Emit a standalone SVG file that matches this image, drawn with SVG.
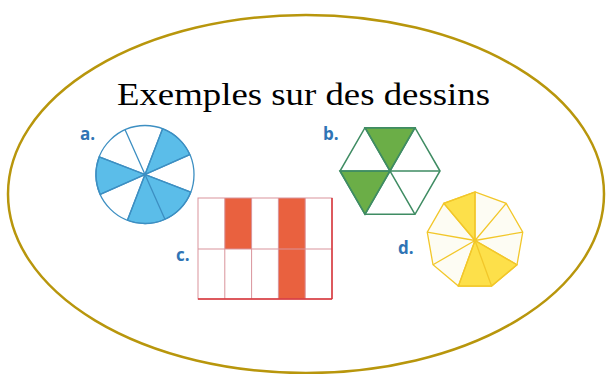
<svg xmlns="http://www.w3.org/2000/svg" width="606" height="374" viewBox="0 0 606 374">
<style>
.lbl{font-family:"Open Sans","Liberation Sans",sans-serif;font-weight:bold;font-size:17px;fill:#2f74b5}
.blue{fill:#5bbde9;stroke:#3d8fc2;stroke-width:1.3}
.bline{stroke:#3d8fc2;stroke-width:1.3;fill:none}
.green{fill:#6bae47;stroke:#3f8c63;stroke-width:1.5}
.gline{stroke:#3f8c63;stroke-width:1.5;fill:none}
.yel{fill:#fde04a;stroke:#f2c72a;stroke-width:1.3}
.yline{stroke:#f2c72a;stroke-width:1.3;fill:none}
.red{fill:#e9613f;stroke:none}
.grid{stroke:#d9939b;stroke-width:1;fill:none}
</style>
<rect width="606" height="374" fill="#ffffff"/>
<ellipse cx="306" cy="194" rx="298" ry="179" fill="#ffffff" stroke="#b8960c" stroke-width="2.5"/>
<text x="117" y="105" font-family="'Liberation Serif',serif" font-size="31" textLength="373" lengthAdjust="spacingAndGlyphs" fill="#000">Exemples sur des dessins</text>

<g id="a">
<circle cx="145" cy="174.5" r="49" fill="#ffffff"/>
<path class="blue" d="M145,174.5 L189.76,154.57 A49,49 0 0 0 162.56,128.75 Z"/>
<path class="blue" d="M145,174.5 L99.25,156.94 A49,49 0 0 0 100.24,194.43 Z"/>
<path class="blue" d="M145,174.5 L127.44,220.25 A49,49 0 0 0 190.75,192.06 Z"/>
<circle class="bline" cx="145" cy="174.5" r="49"/>
<path class="bline" d="M189.76,154.57 L100.24,194.43 M162.56,128.75 L127.44,220.25 M125.07,129.74 L164.93,219.26 M99.25,156.94 L190.75,192.06"/>
<text class="lbl" x="80" y="140">a.</text>
</g>

<g id="b">
<polygon points="440,171 415,127.7 365,127.7 340,171 365,214.3 415,214.3" fill="#ffffff"/>
<polygon class="green" points="365,127.7 415,127.7 390,171"/>
<polygon class="green" points="340,171 365,214.3 390,171"/>
<polygon class="gline" points="440,171 415,127.7 365,127.7 340,171 365,214.3 415,214.3"/>
<path class="gline" d="M440,171 L340,171 M415,127.7 L365,214.3 M365,127.7 L415,214.3"/>
<text class="lbl" x="323" y="140">b.</text>
</g>

<g id="c">
<rect x="198" y="198" width="134" height="101" fill="#ffffff"/>
<rect class="red" x="224.8" y="198" width="26.8" height="51"/>
<rect class="red" x="278.4" y="198" width="26.8" height="101"/>
<rect class="grid" x="198" y="198" width="134" height="101"/>
<path class="grid" d="M224.8,198 V299 M251.6,198 V299 M278.4,198 V299 M305.2,198 V299 M198,249 H332"/>
<path d="M198,299 H332 M332,198 V299" stroke="#d8343a" stroke-width="1.5" fill="none"/>
<text class="lbl" x="176" y="261">c.</text>
</g>

<g id="d">
<polygon points="475,192 443.82,203.35 427.24,232.08 433,264.75 458.41,286.08 491.59,286.08 517,264.75 522.76,232.08 506.18,203.35" fill="#fdfcf3"/>
<polygon class="yel" points="475,240.5 475,192 443.82,203.35"/>
<polygon class="yel" points="475,240.5 458.41,286.08 491.59,286.08 517,264.75"/>
<polygon class="yline" points="475,192 443.82,203.35 427.24,232.08 433,264.75 458.41,286.08 491.59,286.08 517,264.75 522.76,232.08 506.18,203.35"/>
<path class="yline" d="M475,240.5 L475,192 M475,240.5 L443.82,203.35 M475,240.5 L427.24,232.08 M475,240.5 L433,264.75 M475,240.5 L458.41,286.08 M475,240.5 L491.59,286.08 M475,240.5 L517,264.75 M475,240.5 L522.76,232.08 M475,240.5 L506.18,203.35"/>
<text class="lbl" x="398" y="254">d.</text>
</g>
</svg>
